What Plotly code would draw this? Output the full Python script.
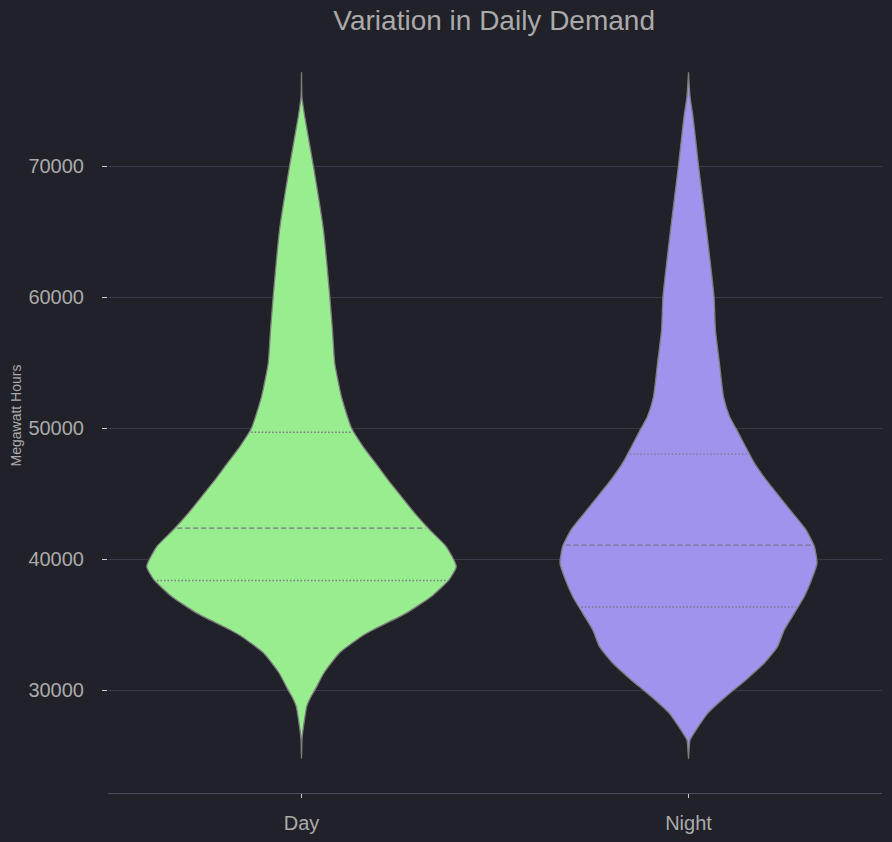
import numpy as np
import plotly.graph_objects as go

# categories and violin profiles (half-width relative to the widest point)
categories = ["Day", "Night"]

day_levels = [24770, 26200, 26700, 27230, 28760, 29400, 30000, 31310, 32830, 34100, 34610, 35880,
              37150, 38420, 39435, 40960, 42235, 43510, 44775, 46050, 47320, 48590, 50000,
              52400, 54950, 57490, 60000, 65120, 70000, 73760, 75290, 77150]
day_density = [0.0, 0.003, 0.007, 0.013, 0.034, 0.057, 0.086, 0.145, 0.245, 0.387, 0.463, 0.677,
               0.839, 0.953, 1.0, 0.935, 0.828, 0.731, 0.645, 0.559, 0.479, 0.398, 0.323,
               0.258, 0.215, 0.2, 0.183, 0.142, 0.077, 0.021, 0.003, 0.0]

night_levels = [24770, 25500, 26200, 26980, 28250, 29530, 30800, 32070, 33335, 34610, 35880,
                37150, 38420, 39695, 40960, 42235, 43510, 44775, 46050, 47320, 48590, 49860,
                50880, 52400, 54950, 57490, 60000, 65120, 70000, 73760, 75290, 77150]
night_density = [0.0, 0.004, 0.01, 0.05, 0.125, 0.243, 0.372, 0.49, 0.576, 0.619, 0.684,
                 0.748, 0.795, 0.83, 0.813, 0.759, 0.673, 0.587, 0.501, 0.426, 0.368, 0.312,
                 0.265, 0.226, 0.2, 0.174, 0.165, 0.116, 0.065, 0.029, 0.01, 0.0]

# quartiles: Q1, median, Q3
day_quartiles = [38370, 42365, 49680]
night_quartiles = [36340, 41070, 48010]

colors = ["#98ee8f", "#a093ee"]
bg = "#212129"
text_col = "#aaaaaa"
half_width = 0.4

fig = go.Figure()

profiles = [(day_levels, day_density, day_quartiles), (night_levels, night_density, night_quartiles)]
for i, (levels, dens, quarts) in enumerate(profiles):
    lv = np.array(levels, dtype=float)
    d = np.array(dens) * half_width
    xs = np.concatenate([i + d, (i - d)[::-1]])
    ys = np.concatenate([lv, lv[::-1]])
    fig.add_trace(go.Scatter(x=xs, y=ys, fill="toself", fillcolor=colors[i], mode="lines",
                             line=dict(color="#7d7d7d", width=1.3, shape="spline", smoothing=0.5),
                             hoverinfo="skip", showlegend=False))
    for k, q in enumerate(quarts):
        w = np.interp(q, lv, d) - 0.006
        fig.add_trace(go.Scatter(x=[i - w, i + w], y=[q, q], mode="lines",
                                 line=dict(color="#7e7587", width=1.4,
                                           dash="5px,3px" if k == 1 else "1.5px,2px"),
                                 hoverinfo="skip", showlegend=False))

fig.update_layout(
    width=892, height=842,
    paper_bgcolor=bg, plot_bgcolor=bg,
    margin=dict(l=108, r=10, t=38, b=49, autoexpand=False),
    font=dict(family="Liberation Sans, Arial, sans-serif", color=text_col),
    title=dict(text="Variation in Daily Demand", x=0.554, xanchor="center",
               y=0.976, yanchor="middle", font=dict(size=28, color=text_col)),
    showlegend=False,
)
fig.add_annotation(text="Megawatt Hours", textangle=-90, xref="paper", yref="paper",
                   x=-93 / 774, y=0.5, xanchor="center", yanchor="middle", showarrow=False,
                   font=dict(size=14, color=text_col))
fig.update_xaxes(range=[-0.5, 1.5], tickvals=[0, 1], ticktext=categories,
                 showgrid=False, zeroline=False, showline=True, linecolor="#4a4959", linewidth=1.3,
                 ticks="outside", ticklen=4, tickcolor="#cccccc", tickwidth=1.3,
                 ticklabelstandoff=8,
                 tickfont=dict(size=20, color=text_col))
fig.update_yaxes(range=[22150, 79770], tickvals=[30000, 40000, 50000, 60000, 70000],
                 ticktext=["30000", "40000", "50000", "60000", "70000"],
                 showgrid=True, gridcolor="#3b3a4b", gridwidth=1, zeroline=False, showline=False,
                 ticks="outside", ticklen=5, tickcolor="#cccccc", tickwidth=1.3,
                 ticklabelstandoff=14,
                 tickfont=dict(size=20, color=text_col))

fig.write_html("out.html", config={"displayModeBar": False},
               post_script="document.body.style.margin='0';document.body.style.overflow='hidden';")
